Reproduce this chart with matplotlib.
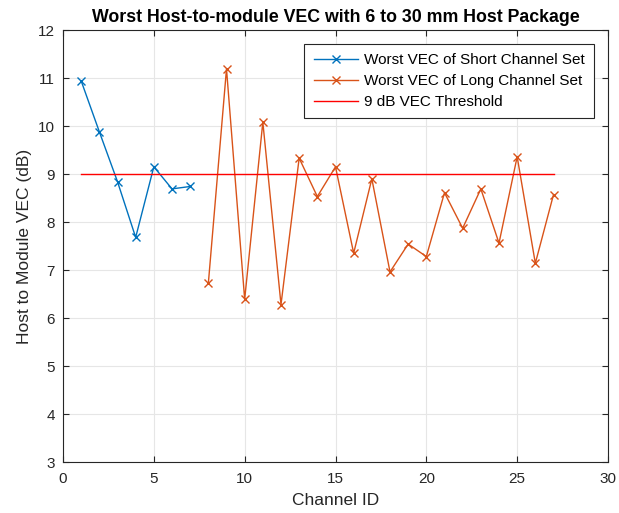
import matplotlib
matplotlib.use('Agg')
import matplotlib.pyplot as plt

plt.rcParams['font.family'] = ['Liberation Sans', 'DejaVu Sans']

short_ids = [1, 2, 3, 4, 5, 6, 7]
short_vec = [10.94, 9.88, 8.84, 7.68, 9.15, 8.69, 8.74]
long_ids = list(range(8, 28))
long_vec = [6.72, 11.19, 6.39, 10.08, 6.28, 9.33, 8.53, 9.15, 7.35, 8.90,
            6.96, 7.54, 7.28, 8.61, 7.87, 8.69, 7.56, 9.36, 7.14, 8.57]
thr_ids = [1, 27]
thr_vec = [9, 9]

fig = plt.figure(figsize=(6.19, 5.13), dpi=100)
ax = fig.add_axes([63 / 619, 1 - 462 / 513, 545 / 619, 432 / 513])

ax.plot(short_ids, short_vec, color='#0072BD', marker='x', lw=1, ms=6,
        label='Worst VEC of Short Channel Set')
ax.plot(long_ids, long_vec, color='#D95319', marker='x', lw=1, ms=6,
        label='Worst VEC of Long Channel Set')
ax.plot(thr_ids, thr_vec, color='#FF0000', lw=1, label='9 dB VEC Threshold')

ax.set_xlim(0, 30)
ax.set_ylim(3, 12)
ax.set_xticks(range(0, 31, 5))
ax.set_yticks(range(3, 13))
ax.grid(True, color='#e6e6e6', lw=0.8)
ax.set_axisbelow(True)
ax.tick_params(direction='in', top=True, right=True, labelsize=11, length=4,
               color='#262626', labelcolor='#262626')
ax.tick_params(axis='x', pad=7)
ax.tick_params(axis='y', pad=6)
for s in ax.spines.values():
    s.set_color('#262626')
    s.set_linewidth(0.8)

ax.set_xlabel('Channel ID', fontsize=12.5, color='#262626', labelpad=5)
ax.set_ylabel('Host to Module VEC (dB)', fontsize=12.5, color='#262626', labelpad=4)
ax.set_title('Worst Host-to-module VEC with 6 to 30 mm Host Package',
             fontsize=12.8, fontweight='bold', pad=6)

leg = ax.legend(loc='upper right', bbox_to_anchor=(594 / 619, 1 - 44 / 513),
                bbox_transform=fig.transFigure, borderaxespad=0, fontsize=11,
                fancybox=False, framealpha=1, edgecolor='#262626',
                borderpad=0.6, handlelength=2.9, labelspacing=0.45,
                handletextpad=0.4)
leg.get_frame().set_linewidth(0.8)

fig.savefig('out.png', dpi=100)
